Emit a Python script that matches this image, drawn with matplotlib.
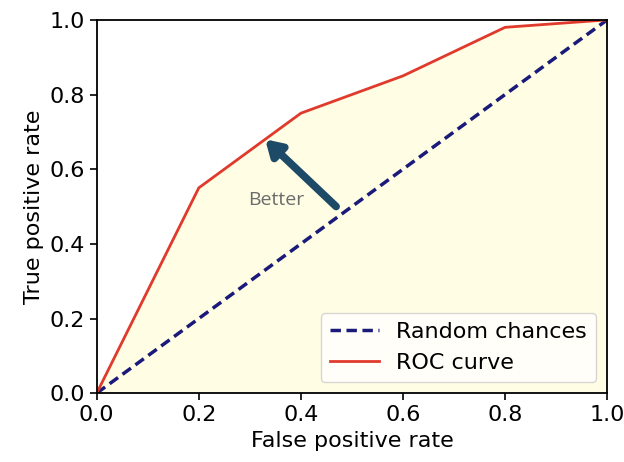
import matplotlib
matplotlib.use("Agg")
import matplotlib.pyplot as plt

fpr = [0.0, 0.2, 0.4, 0.6, 0.8, 1.0]
tpr = [0.0, 0.55, 0.75, 0.85, 0.98, 1.0]
rand_x = [0.0, 1.0]
rand_y = [0.0, 1.0]

fig = plt.figure(figsize=(6.24, 4.62), dpi=100)
ax = fig.add_axes([0.155, 0.149, 0.818, 0.808])

ax.fill_between(fpr, tpr, 0, color="#fffde3", zorder=0)
ax.plot(rand_x, rand_y, linestyle="--", color="#1a1a7a", lw=2.5, label="Random chances", dashes=(3, 1.6))
ax.plot(fpr, tpr, color="#e03a2c", lw=2, label="ROC curve")

ax.annotate("", xy=(0.33, 0.68), xytext=(0.469, 0.50),
            arrowprops=dict(arrowstyle="-|>,head_length=0.9,head_width=0.55", lw=5.5,
                            color="#1d4a66", shrinkA=0, shrinkB=0))
ax.text(0.351, 0.517, "Better", fontsize=14, color="#6b6b6b", ha="center", va="center",
        family="Open Sans")

ax.set_xlim(0, 1)
ax.set_ylim(0, 1)
ax.set_xticks([0, 0.2, 0.4, 0.6, 0.8, 1.0])
ax.set_yticks([0, 0.2, 0.4, 0.6, 0.8, 1.0])
ax.tick_params(labelsize=16, length=5, width=1.2)
for s in ax.spines.values():
    s.set_linewidth(1.3)
ax.set_xlabel("False positive rate", fontsize=16)
ax.set_ylabel("True positive rate", fontsize=16)
ax.legend(loc="lower right", fontsize=16, handlelength=2.2)

fig.savefig("out.png", dpi=100)
